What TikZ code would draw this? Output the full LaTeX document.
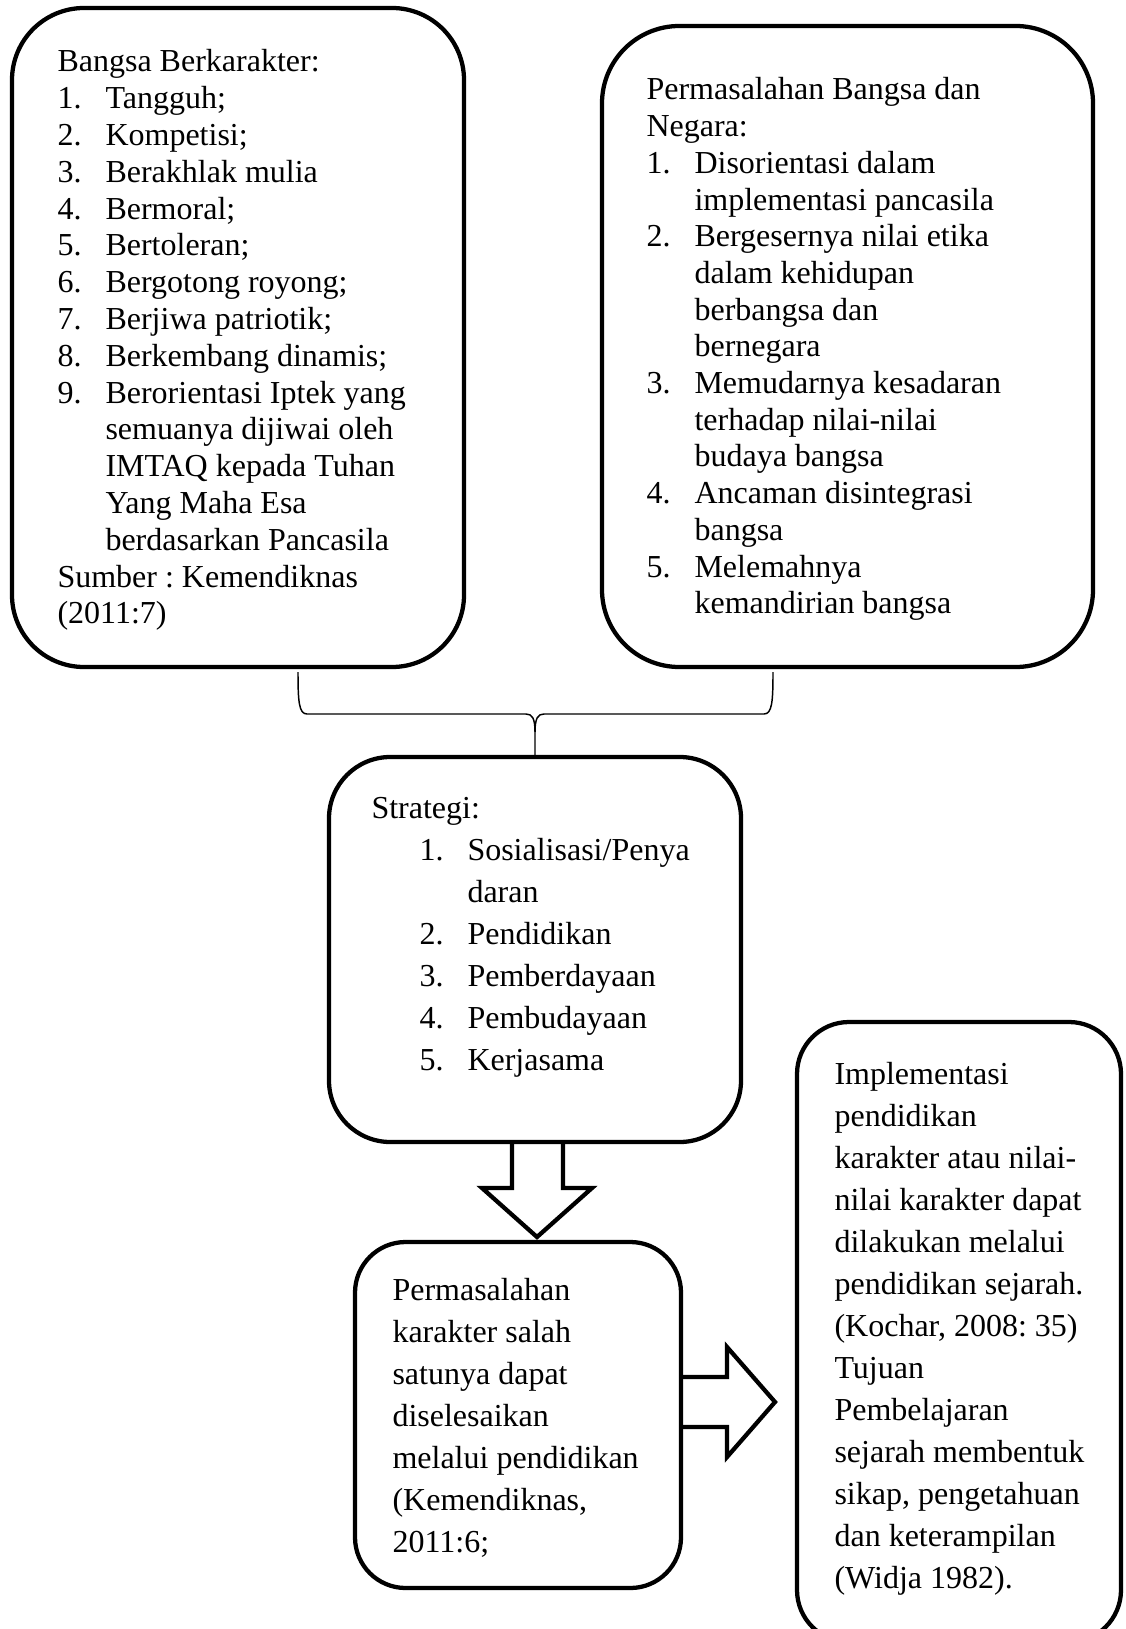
\documentclass[tikz,border=0pt]{standalone}
\usepackage{fontspec}
\setmainfont{Liberation Serif}
\usetikzlibrary{fit}
\frenchspacing
\tikzset{
  box/.style={draw, line width=1.6pt, rounded corners=#1, inner sep=0pt},
  txt/.style={inner sep=0pt, anchor=base west},
  bracket/.style={line width=0.55pt},
  blockarrow/.style={draw, line width=1.6pt, line join=miter},
}
\newcommand{\itm}[1]{\makebox[18pt][l]{#1}}
\newcommand{\cnt}{\hspace*{18pt}}
\newcommand{\txtblock}[3]{\begin{minipage}[t]{#1}\frenchspacing\fontsize{12pt}{#2}\selectfont\raggedright\parindent=0pt #3\end{minipage}}
\begin{document}
\begin{tikzpicture}[x=0.375pt,y=-0.375pt]
\useasboundingbox (0,0) rectangle (1125,1629);
\clip (0,0) rectangle (1125,1629);
% boxes
\node[box=27pt, fit={(12,8) (464,667)}] (A) {};
\node[box=29pt, fit={(602,26) (1093,667)}] (B) {};
\node[box=23pt, fit={(329,757) (741,1142)}] (S) {};
\node[box=19pt, fit={(355,1242) (681,1588)}] (E) {};
\node[box=19.5pt, fit={(797,1022) (1121,1642)}] (F) {};
% texts
\node[txt] (At) at (57,72) {\txtblock{170pt}{13.8pt}{%
Bangsa Berkarakter:\\
\itm{1.}Tangguh;\\
\itm{2.}Kompetisi;\\
\itm{3.}Berakhlak mulia\\
\itm{4.}Bermoral;\\
\itm{5.}Bertoleran;\\
\itm{6.}Bergotong royong;\\
\itm{7.}Berjiwa patriotik;\\
\itm{8.}Berkembang dinamis;\\
\itm{9.}Berorientasi Iptek yang\\
\cnt semuanya dijiwai oleh\\
\cnt IMTAQ kepada Tuhan\\
\cnt Yang Maha Esa\\
\cnt berdasarkan Pancasila\\
Sumber : Kemendiknas\\
(2011:7)}};
\node[txt] (Bt) at (646,100) {\txtblock{170pt}{13.76pt}{%
Permasalahan Bangsa dan\\
Negara:\\
\itm{1.}Disorientasi dalam\\
\cnt implementasi pancasila\\
\itm{2.}Bergesernya nilai etika\\
\cnt dalam kehidupan\\
\cnt berbangsa dan\\
\cnt bernegara\\
\itm{3.}Memudarnya kesadaran\\
\cnt terhadap nilai-nilai\\
\cnt budaya bangsa\\
\itm{4.}Ancaman disintegrasi\\
\cnt bangsa\\
\itm{5.}Melemahnya\\
\cnt kemandirian bangsa}};
\node[txt] (St) at (371,818) {\txtblock{150pt}{15.75pt}{%
Strategi:\\
\cnt\itm{1.}Sosialisasi/Penya\\
\cnt\cnt daran\\
\cnt\itm{2.}Pendidikan\\
\cnt\itm{3.}Pemberdayaan\\
\cnt\itm{4.}Pembudayaan\\
\cnt\itm{5.}Kerjasama}};
\node[txt] (Et) at (392,1300) {\txtblock{120pt}{15.8pt}{%
Permasalahan\\
karakter salah\\
satunya dapat\\
diselesaikan\\
melalui pendidikan\\
(Kemendiknas,\\
2011:6;}};
\node[txt] (Ft) at (834,1084) {\txtblock{115pt}{15.75pt}{%
Implementasi\\
pendidikan\\
karakter atau nilai-\\
nilai karakter dapat\\
dilakukan melalui\\
pendidikan sejarah.\\
(Kochar, 2008: 35)\\
Tujuan\\
Pembelajaran\\
sejarah membentuk\\
sikap, pengetahuan\\
dan keterampilan\\
(Widja 1982).}};
% bracket joining A and B to S
\coordinate (bl) at (298,672);
\coordinate (br) at (773,672);
\coordinate (bm) at (535,732);
\draw[bracket] (bl) .. controls (298,702) and (299,714) .. (307,714) -- (526,714)
  .. controls (532,714) and (535,718) .. (bm) -- (S.north);
\draw[bracket] (br) .. controls (773,702) and (772,714) .. (764,714) -- (544,714)
  .. controls (538,714) and (535,718) .. (bm);
% block arrows
\draw[blockarrow] (512,1142) -- (512,1188) -- (482,1188) -- (537,1237) -- (592,1188) -- (563,1188) -- (563,1142);
\draw[blockarrow] (681,1377) -- (727,1377) -- (727,1347) -- (775,1402) -- (727,1457) -- (727,1427) -- (681,1427);
\end{tikzpicture}
\end{document}
